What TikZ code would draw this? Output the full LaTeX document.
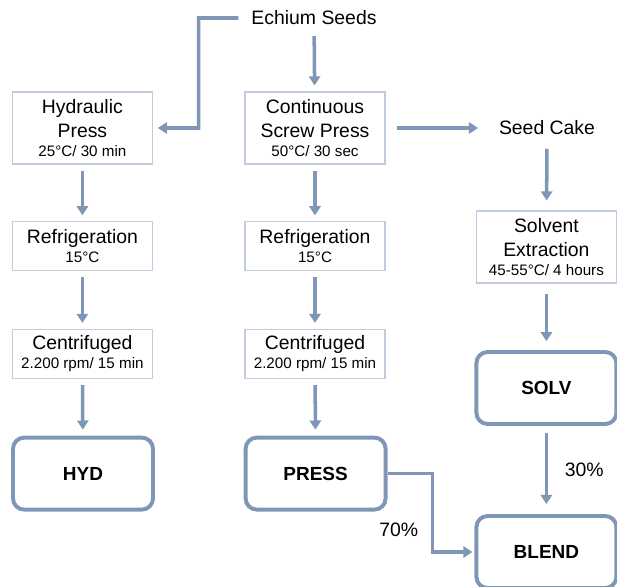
\documentclass[tikz,border=0pt]{standalone}
\usepackage{fontspec}
\setmainfont{Liberation Sans}
\usepackage{xcolor}
\usetikzlibrary{arrows.meta, positioning, calc}

\definecolor{flowblue}{RGB}{128,150,182}
\definecolor{boxline}{RGB}{192,205,224}

% smaller line for process conditions
\newcommand{\cond}[1]{{\fontsize{10.8}{12}\selectfont #1}}

\begin{document}
\begin{tikzpicture}[
    font=\fontsize{13.8}{16.5}\selectfont,
    stage/.style={draw=boxline, line width=0.8pt, fill=white, align=center, minimum width=3.5cm, minimum height=1.225cm, inner sep=1pt},
    tallstage/.style={stage, minimum height=1.8cm},
    product/.style={draw=flowblue, line width=2.8pt, rounded corners=0.28cm, minimum width=3.5cm, minimum height=1.8cm, font=\fontsize{13.5}{16.5}\selectfont\bfseries},
    flow/.style={draw=flowblue, line width=2.5pt, -{Triangle[length=6.5pt,width=8pt]}, shorten <=0.15cm, shorten >=0.15cm},
  ]
  \useasboundingbox (0,0) rectangle (15.425,-14.675);

  \node (seeds) at (7.85,-0.45) {Echium Seeds};

  % pressing
  \node[tallstage] (hydraulic) at (2.06,-3.2) {Hydraulic\\Press\\[-3pt]\cond{25°C/ 30 min}};
  \node[tallstage] (screw) at (7.875,-3.2) {Continuous\\Screw Press\\[-3pt]\cond{50°C/ 30 sec}};
  \node (cake) at (13.675,-3.2) {Seed Cake};

  \node[stage] (refrig1) at (2.06,-6.16) {Refrigeration\\[-3pt]\cond{15°C}};
  \node[stage] (refrig2) at (7.875,-6.16) {Refrigeration\\[-3pt]\cond{15°C}};
  \node[tallstage] (solvent) at (13.66,-6.175) {Solvent\\Extraction\\[-3pt]\cond{45-55°C/ 4 hours}};

  \node[stage] (centr1) at (2.06,-8.85) {Centrifuged\\[-3pt]\cond{2.200 rpm/ 15 min}};
  \node[stage] (centr2) at (7.875,-8.85) {Centrifuged\\[-3pt]\cond{2.200 rpm/ 15 min}};

  % oils
  \node[product] (hyd) at (2.075,-11.84) {HYD};
  \node[product] (press) at (7.89,-11.84) {PRESS};
  \node[product] (solv) at (13.66,-9.7) {SOLV};
  \node[product] (blend) at (13.66,-13.8) {BLEND};

  \draw[flow, shorten <=0.2cm, shorten >=0.12cm] (seeds.west) -| ($(hydraulic.east)!0.5!(screw.west)$) -- (hydraulic.east);
  \draw[flow] (seeds) -- (screw);
  \draw[flow, shorten <=0.28cm, shorten >=0.4cm] (screw) -- (cake);

  \draw[flow] (hydraulic) -- (refrig1);
  \draw[flow] (refrig1) -- (centr1);
  \draw[flow] (centr1) -- (hyd);

  \draw[flow] (screw) -- (refrig2);
  \draw[flow] (refrig2) -- (centr2);
  \draw[flow] (centr2) -- (press);

  \draw[flow, shorten <=0.22cm, shorten >=0.25cm] (cake) -- (solvent);
  \draw[flow, shorten <=0.27cm, shorten >=0.22cm] (solvent) -- (solv);
  \draw[flow, shorten <=0.18cm, shorten >=0.25cm] (solv) -- node[right=0.3cm] (pct30) {30\%} (blend);
  \draw[flow, shorten <=0pt, shorten >=0.05cm] (press.east) -- ++(1.125,0) |- node[pos=0.36, left=0.2cm] (pct70) {70\%} (blend.west);
\end{tikzpicture}
\end{document}
